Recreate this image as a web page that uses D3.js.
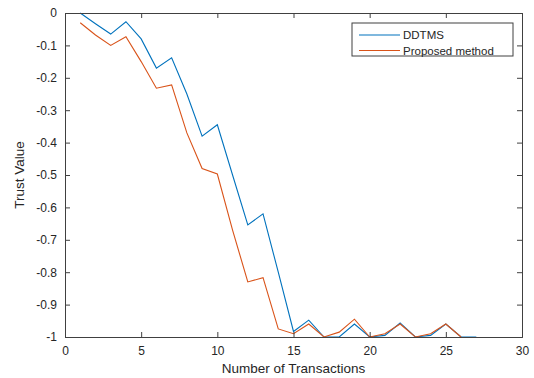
<html>
<head>
<style>
  body { margin: 0; background: #fff; }
  text { font-family: "Liberation Sans", Arial, sans-serif; fill: #262626; }
</style>
<script src="https://d3js.org/d3.v7.min.js"></script>
</head>
<body>
<script>
var transactions = d3.range(1, 28);
var ddtms = [0, -0.033, -0.065, -0.027, -0.08, -0.17, -0.138, -0.25, -0.38, -0.345,
  -0.5, -0.654, -0.62, -0.8, -0.983, -0.948, -1, -1, -0.96, -1,
  -0.995, -0.957, -1, -0.995, -0.96, -1, -1];
var proposed = [-0.03, -0.068, -0.1, -0.073, -0.15, -0.232, -0.222, -0.37, -0.48, -0.497,
  -0.67, -0.83, -0.817, -0.975, -0.99, -0.96, -1, -0.985, -0.945, -1,
  -0.99, -0.96, -1, -0.99, -0.96, -1];
var xTicks = [0, 5, 10, 15, 20, 25, 30];
var yTicks = [0, -0.1, -0.2, -0.3, -0.4, -0.5, -0.6, -0.7, -0.8, -0.9, -1];
var seriesNames = ["DDTMS", "Proposed method"];
var colors = ["#0072BD", "#D95319"];

var width = 534, height = 378;
var mLeft = 65, mRight = 522, mTop = 13, mBottom = 337;

var svg = d3.select("body").append("svg")
  .attr("width", width).attr("height", height);

var x = d3.scaleLinear().domain([0, 30]).range([mLeft, mRight]);
var y = d3.scaleLinear().domain([-1, 0]).range([mBottom, mTop]);

var line = d3.line()
  .x(function(d) { return x(d[0]); })
  .y(function(d) { return y(d[1]); });

[ddtms, proposed].forEach(function(vals, i) {
  svg.append("path")
    .datum(vals.map(function(v, j) { return [transactions[j], v]; }))
    .attr("d", line)
    .attr("fill", "none")
    .attr("stroke", colors[i])
    .attr("stroke-width", 1.1);
});

// axes, MATLAB style box with inward ticks
var fmt = function(d) { return d === 0 ? "0" : String(d); };
svg.append("g").attr("transform", "translate(0," + mBottom + ")")
  .call(d3.axisBottom(x).tickValues(xTicks).tickSize(-5).tickPadding(9).tickFormat(fmt));
svg.append("g").attr("transform", "translate(0," + mTop + ")")
  .call(d3.axisTop(x).tickValues(xTicks).tickSize(-5).tickFormat(""));
svg.append("g").attr("transform", "translate(" + mLeft + ",0)")
  .call(d3.axisLeft(y).tickValues(yTicks).tickSize(-5).tickPadding(8).tickFormat(fmt));
svg.append("g").attr("transform", "translate(" + mRight + ",0)")
  .call(d3.axisRight(y).tickValues(yTicks).tickSize(-5).tickFormat(""));

svg.selectAll(".domain").attr("stroke", "#404040");
svg.selectAll(".tick line").attr("stroke", "#404040");
svg.selectAll(".tick text").attr("font-size", 12).style("fill", "#262626")
  .attr("font-family", "'Liberation Sans', Arial, sans-serif");

svg.append("text")
  .attr("x", (mLeft + mRight) / 2).attr("y", 373)
  .attr("text-anchor", "middle").attr("font-size", 13.5)
  .text("Number of Transactions");
svg.append("text")
  .attr("transform", "translate(24," + ((mTop + mBottom) / 2) + ") rotate(-90)")
  .attr("text-anchor", "middle").attr("font-size", 13.5)
  .text("Trust Value");

// legend
var lg = svg.append("g");
lg.append("rect")
  .attr("x", 352).attr("y", 23).attr("width", 161).attr("height", 33)
  .attr("fill", "#fff").attr("stroke", "#404040").attr("stroke-width", 1);
seriesNames.forEach(function(name, i) {
  var yy = 35 + i * 15.5;
  lg.append("line")
    .attr("x1", 359).attr("x2", 400).attr("y1", yy).attr("y2", yy)
    .attr("stroke", colors[i]).attr("stroke-width", 1.1);
  lg.append("text")
    .attr("x", 403).attr("y", yy + 4).attr("font-size", 11.5)
    .text(name);
});
</script>
</body>
</html>
